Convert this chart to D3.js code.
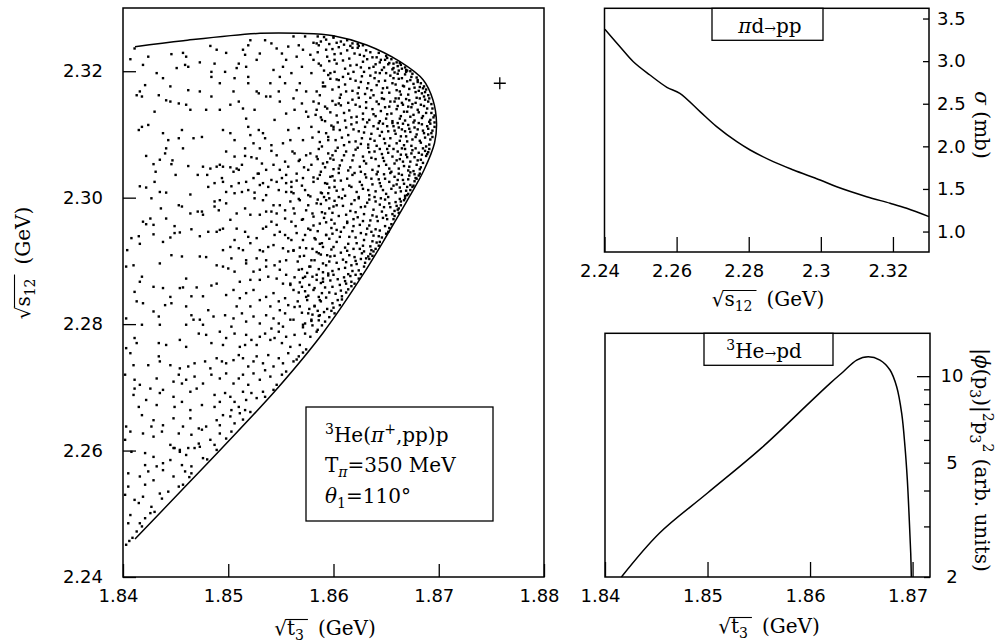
<!DOCTYPE html>
<html>
<head>
<meta charset="utf-8">
<script src="https://cdn.jsdelivr.net/npm/d3@7"></script>
<style>
  body { margin: 0; background: #fff; }
  .tick text { font-family: "DejaVu Sans", sans-serif; font-size: 18px; fill: #000; }
  .tick line { stroke: #000; stroke-width: 1.3; }
  .title { font-family: "DejaVu Serif", serif; font-size: 20px; fill: #000; }
  .note { font-family: "DejaVu Serif", serif; font-size: 20px; fill: #000; }
</style>
</head>
<body>
<svg id="chart" width="1003" height="644"></svg>
<script>
// ---- left panel: sqrt(t3) vs sqrt(s12) scatter ----
const dalitzXTicks = [1.84, 1.85, 1.86, 1.87, 1.88];
const dalitzYTicks = [2.24, 2.26, 2.28, 2.30, 2.32];

// kinematic boundary (GeV)
const boundaryT = [1.84114, 1.84573, 1.85302, 1.85682, 1.85998, 1.86315, 1.86632, 1.86853, 1.86945, 1.86979,
                   1.8696, 1.8686, 1.8672, 1.8652, 1.8629, 1.8590, 1.8547, 1.8495, 1.8456, 1.84114];
const boundaryS = [2.32388, 2.32483, 2.32600, 2.32600, 2.32562, 2.32415, 2.32151, 2.31862, 2.31545, 2.31181,
                   2.30865, 2.30438, 2.30011, 2.29441, 2.28809, 2.27860, 2.26990, 2.26056, 2.25376, 2.24601];

// the lone "+" marker
const markerT = [1.8758];
const markerS = [2.3181];

// events, "t,s" in units of 0.1 MeV above (1.84, 2.24) GeV
// sparse and middle part, read dot by dot off the picture
const sparseDots = `
11,378 13,370 3,362 34,370 41,367 54,375 60,364 72,385 79,383 84,370 92,388 95,367 98,378 106,385 111,364 116,367 117,383 122,375 127,367 130,380 135,385 140,375 144,378 148,388 151,370 155,380 159,364 163,383 168,367 173,385 178,380 184,388 7,354
10,335 24,335 34,349 35,341 45,335 54,330 62,333 68,338 78,341 83,330 89,346 94,341 98,338 105,343 110,351 114,346 119,333 124,341 127,349 133,338 138,351 143,333 148,346 152,338 157,354 162,341 167,349 165,344 171,355 174,360
2,320 11,312 32,314 48,309 53,320 56,306 60,312 68,317 76,306 84,320 92,314 98,322 105,306 110,314 114,320 119,304 124,322 130,312 135,327 140,317 146,304 151,320 155,325 11,298 26,298 38,296 16,304
10,288 22,280 35,291 48,285 56,277 64,293 70,298 75,272 87,288 92,277 97,291 102,285 106,277 110,269 114,293 117,280 122,291 127,283 133,293 135,285 143,296 116,264 103,264 87,269 64,264 49,269 32,272 15,269
3,238 18,256 29,248 38,240 48,251 57,238 64,251 72,235 79,238 89,248 95,256 102,254 106,243 111,259 114,249 121,261 92,240 27,238
7,230 19,227 29,222 37,230 45,209 49,204 53,227 65,225 75,233 83,217 87,209 92,227 98,219 103,230 72,211 62,204 54,201 2,217
8,198 21,196 29,190 38,180 48,204 54,198 60,193 68,204 73,206 76,188 80,186 89,201 21,177 45,185 65,175 56,177
5,164 16,159 24,167 32,175 38,169 48,159 59,167 65,164 63,158 29,153 57,146 53,143 21,146 5,143
2,130 11,122 15,117 35,132 37,124 43,135 27,111 30,103 19,127
7,98 21,93 16,85 18,80 26,101 5,85
13,72 9,62 3,51 6,57
22,666 40,670 29,653 35,660 47,659 46,653 62,650 31,641 50,636 71,636 76,649 83,646 80,636 89,649 16,618 22,616 30,625 35,609 41,608 81,617 87,623 27,599 64,605 87,594 36,583 53,588 56,586 64,575 71,578 75,578 76,573 87,586 91,580 26,567 19,562 22,558 29,557 41,567 49,555 8,536 15,539 16,527 29,542 38,530 45,537 49,544 54,545 65,550 73,539 81,546 89,546 4,517 10,493 3,491 35,496 46,509 56,507 73,507 79,506 89,493 18,475 16,467 29,459 38,457 45,443 54,457 57,458 60,472 65,444 70,458 76,444 84,461 89,464 11,451 13,436 19,433 29,420 34,412 40,430 46,433 60,428 65,414 67,407 73,407 81,422 86,412 3,409 18,399 35,399 60,399 76,399
98,673 106,665 116,666 122,664 127,662 132,654 141,674 146,667 154,657 157,649 92,652 95,649 102,648 108,646 113,652 105,641 110,644 129,638 136,644 143,652 149,644 155,636
94,631 95,625 103,618 110,623 117,625 124,631 128,638 133,623 138,617 141,628 146,625 151,631 155,623 160,617 98,609 106,607 113,609 119,612 125,608 130,620 136,604 148,612 155,609 160,625
92,596 98,591 116,583 125,599 133,596 143,588 149,588 159,594 136,578 141,578 146,575 154,580 130,573 121,573 108,575
102,565 92,549 95,551 108,551 116,546 119,538 127,536 133,551 136,554 141,562 146,557 154,567 160,562 149,546 144,541 154,541 157,536 106,533
95,517 102,522 110,520 114,517 121,528 130,517 133,515 138,522 143,525 152,520 157,515 103,504 117,501 127,504 136,501 149,499 155,501
95,491 100,488 106,483 117,496 124,483 130,486 136,491 144,493 149,486 155,478 111,467 121,470 130,470 138,475 146,472 152,464 159,464
98,446 105,454 111,441 117,449 124,454 130,438 136,443 143,449 148,436 154,441 157,430 108,428 121,428 140,428 149,422
97,414 105,409 113,417 117,404 124,412 130,401 136,414 143,409 148,401 154,417 159,407 103,396 141,393 152,396
163,670 168,660 174,667 179,652 184,665 190,654 195,670 200,660 205,646 165,638 171,631 176,644 181,625 187,636 192,623 197,633 201,617
162,607 168,596 173,612 178,602 184,591 189,607 193,596 200,586 205,601 163,575 170,565 174,580 181,570 187,559 192,575 198,565 203,549
165,544 171,533 178,549 182,536 189,528 193,541 200,522 162,517 168,507 174,520 179,501 186,512 190,496 197,507 167,486 173,475 178,491 184,478 190,467 195,480
162,454 170,459 174,443 181,454 187,438 168,428 176,417 182,428 162,407 171,399 179,407 187,414
7,819 11,836 19,810 24,823 32,797 38,789 46,827 51,805 57,829 60,823 59,810 62,807 73,814 83,840 84,799 84,791 89,834 87,812 92,781 97,799 98,829 106,789 108,805 110,812 114,834 116,826 117,807 119,791 119,781 119,841 121,849 127,818 129,765 130,828 135,849 136,760 140,781 141,844 143,802 146,836 149,791 151,828 152,807 154,781 155,818 157,839 160,797 162,855 165,823 167,841 168,781 170,807 173,855 171,834 174,768 178,826 179,797 184,844 186,812 190,776 193,834 197,797 200,855 201,818 205,786
13,762 16,768 18,760 21,778 30,736 34,762 41,754 45,752 45,776 53,749 60,747 64,739 62,770 73,768 79,739 84,760 92,739 102,747 105,768 110,752 114,741 117,725 119,712 121,699 125,739 127,768 129,707 133,702 135,694 140,760 144,723 148,768 149,752 155,733 157,707 159,691 162,757 163,739 165,770 167,710 170,749 171,691 174,736 176,728 179,712 181,752 184,739 186,704 189,723 192,744 195,691 200,712 205,749 18,712 24,715 15,707 38,702 43,691 53,694 56,707 67,694 75,696 57,678 41,678 95,707 102,702 106,691 116,678 124,686 130,678 141,683 152,686
`;

// dense band along the right edge, estimated (too crowded to read one by one)
const denseDots = `
171,395 180,398 185,391 189,398
163,427 166,436 173,401 180,415 186,406 191,419 196,411 200,426 175,438 182,429 188,436 194,424 199,433 204,438 206,430 201,417 170,418 177,424 185,421 192,404 198,421 186,413 208,439 179,405
159,462 163,474 167,450 168,466 173,452 180,475 186,443 192,458 197,469 202,448 206,462 210,474 214,455 217,467 221,478 177,462 184,470 189,449 195,477 199,459 204,471 208,444 212,464 216,476 217,460 224,472 226,479 171,473 182,457 188,465 193,442 200,478 207,453 211,468 212,450 220,464 214,479 190,472 176,445 196,450
162,516 166,499 170,487 172,508 177,491 184,514 190,482 196,499 201,508 205,487 209,502 213,516 217,493 220,506 224,485 227,512 230,497 233,507 236,517 234,503 175,481 182,501 188,510 193,493 198,518 203,497 207,513 211,489 215,509 219,519 222,495 226,503 229,515 229,491 235,511 221,500 238,515 240,519 180,519 186,487 194,509 199,484 212,498 218,484 225,519 231,504 237,508
160,533 164,555 168,521 173,541 176,551 181,556 187,527 193,541 198,552 203,530 207,546 211,521 215,538 219,555 222,528 226,544 229,533 232,551 235,523 238,540 241,529 244,548 246,537 249,555 252,546 185,547 190,522 196,535 201,559 206,538 210,553 214,527 218,547 221,537 225,557 228,524 231,542 234,556 237,531 240,550 243,539 243,524 250,543 253,552 255,558 183,534 199,543 213,560 236,546 244,530
162,583 167,598 171,566 176,588 180,575 185,597 191,568 196,583 201,595 205,571 209,587 213,562 216,579 220,596 223,569 226,585 229,574 232,592 235,564 238,581 241,570 244,589 246,578 249,597 251,566 254,585 256,574 259,593 261,581 263,598 258,571 264,588 267,596 188,590 193,561 199,576 203,588 208,599 212,573 217,590 221,577 224,599 228,563 230,586 234,597 237,572 240,594 242,563 245,599 248,585 250,572 253,591 257,566 260,587 262,576 264,594 262,583 268,599 189,577 196,599 219,566 247,568 258,579
160,609 165,627 170,619 176,604 181,632 188,608 194,622 199,634 203,611 207,627 211,603 215,619 218,636 222,609 225,625 228,614 231,632 234,604 237,621 240,610 243,629 245,618 248,637 250,606 253,625 255,614 258,633 260,621 262,638 264,610 266,628 268,603 270,617 272,635 271,606 273,612 278,631 276,619 282,638 277,626 185,630 191,601 196,616 201,627 205,639 209,613 213,630 217,617 220,639 224,601 227,620 230,637 233,612 236,630 239,601 241,637 244,623 247,612 249,630 252,601 254,639 257,619 259,608 261,628 263,616 265,636 267,622 269,611 271,629 273,640 270,604 277,637 275,617 279,630 281,635 273,620 195,607
161,673 167,658 172,648 178,670 186,677 192,648 197,662 202,674 206,651 210,667 214,643 218,659 221,676 225,649 228,665 231,654 234,672 237,644 240,661 243,650 246,669 248,658 251,677 253,646 256,665 258,654 261,673 263,661 265,678 267,650 269,668 271,643 273,657 275,675 277,664 279,652 281,671 283,660 285,678 283,648 288,666 290,672 188,641 194,656 199,667 204,679 208,659 212,673 216,648 219,667 223,679 226,641 229,658 233,679 236,663 239,673 242,641 244,677 247,663 250,652 252,671 255,641 257,677 260,659 262,646 264,668 266,657 268,677 270,664 272,649 274,670 276,642 278,678 280,659 282,645 284,668 287,674 285,655 291,677 289,669 200,645 185,661
180,695 187,688 193,702 198,714 202,691 206,707 210,683 214,699 217,716 221,689 224,705 227,694 230,712 233,684 236,701 239,690 242,709 244,698 247,717 249,686 252,705 254,694 257,713 259,701 261,718 263,690 265,708 267,683 269,697 271,715 273,704 275,692 277,711 279,700 281,718 283,687 285,706 287,695 289,713 291,684 293,702 292,692 290,700 296,719 189,681 195,696 200,708 204,719 208,695 212,711 215,688 219,708 222,719 226,685 229,703 232,719 235,693 238,713 241,682 243,718 246,704 248,693 251,713 253,682 256,718 258,706 260,686 262,711 264,697 266,717 268,705 270,689 272,709 274,682 276,719 278,696 280,708 282,690 284,716 286,702 288,681 290,709 292,717 294,696 296,712 294,706
183,731 188,727 194,741 199,753 203,730 207,746 211,722 215,738 218,755 222,728 225,744 228,733 231,751 234,723 237,740 240,729 243,748 245,737 248,756 250,725 253,744 255,733 258,752 260,740 262,757 264,729 266,747 268,722 270,736 272,754 274,743 276,731 278,750 280,739 282,757 284,726 286,745 288,734 290,752 292,723 294,741 296,730 293,748 295,727 186,749 192,721 197,735 202,747 206,758 210,734 214,750 217,727 221,747 224,758 228,724 231,742 235,758 238,732 241,752 244,721 246,757 249,743 251,732 254,752 256,721 259,757 261,745 263,725 265,750 267,736 269,756 271,744 273,728 275,748 277,722 279,758 281,735 283,747 285,729 287,755 289,741 291,720 293,734 291,757
184,768 190,782 195,794 199,771 203,787 207,763 211,779 214,796 218,769 221,785 224,774 227,792 230,764 233,781 236,770 239,789 241,778 244,797 246,766 249,785 251,774 254,793 256,781 258,798 260,770 262,788 264,763 266,777 268,795 270,784 272,772 274,791 276,780 278,767 280,786 282,775 284,765 283,781 288,771 290,762 286,760 187,762 192,776 197,788 201,799 205,775 209,791 212,768 216,788 219,799 223,765 226,783 229,799 232,773 235,793 238,762 240,798 243,784 247,773 250,797 253,766 257,789 259,779 261,796 263,768 265,789 267,776 269,799 271,763 273,786 275,796 277,774 279,790 281,769 280,783 285,773 287,767 286,776
181,818 188,809 194,823 199,835 203,812 207,828 211,804 215,820 218,837 222,810 225,826 228,815 231,833 234,805 237,822 240,811 243,829 245,818 248,806 250,824 253,813 256,803 255,819 261,808 257,812 265,804 263,813 269,802 268,806 185,830 191,801 196,816 201,827 205,838 209,817 213,833 216,809 220,828 223,837 226,806 229,824 232,819 235,830 238,807 241,822 244,814 246,802 249,818 252,811 251,821 257,805 260,814 262,801 264,810 270,801 273,800
185,855 193,850 200,853 207,847 213,849 218,844 223,843 228,841 196,843 188,847 210,842 203,845 191,854 181,845 216,840 224,840 186,841
`;

// ---- top right: pi d -> pp cross section ----
const sigmaXTicks = [2.24, 2.26, 2.28, 2.30, 2.32];
const sigmaXLabels = ["2.24", "2.26", "2.28", "2.3", "2.32"];
const sigmaYTicks = [1.0, 1.5, 2.0, 2.5, 3.0, 3.5];
const sigmaS   = [2.2401, 2.2443, 2.2480, 2.2526, 2.2573, 2.2609, 2.2665, 2.2711, 2.2767, 2.2804,
                  2.2868, 2.2924, 2.2998, 2.3044, 2.3127, 2.3192, 2.3238, 2.3300];
const sigmaVal = [3.374, 3.169, 2.993, 2.837, 2.693, 2.622, 2.407, 2.231, 2.054, 1.957,
                  1.820, 1.722, 1.605, 1.525, 1.409, 1.332, 1.273, 1.175];

// ---- bottom right: 3He -> pd momentum distribution ----
const phiXTicks = [1.84, 1.85, 1.86, 1.87];
const phiYTicks = [2, 3, 4, 5, 6, 7, 8, 9, 10];
const phiYLabels = {2: "2", 5: "5", 10: "10"};
const phiT   = [1.8416, 1.8453, 1.8500, 1.8553, 1.8600, 1.86195, 1.86324, 1.86455, 1.86568, 1.86682,
                1.86780, 1.86845, 1.86894, 1.86926, 1.86949, 1.86968, 1.86982, 1.86988];
const phiVal = [2.0, 2.84, 3.92, 5.64, 8.12, 9.44, 10.36, 11.38, 11.69, 11.38,
                10.51, 9.19, 7.42, 5.68, 4.35, 3.16, 2.42, 2.0];

const svg = d3.select("#chart");

function frame(x, y) {
  svg.append("rect")
    .attr("x", x.range()[0]).attr("y", y.range()[1])
    .attr("width", x.range()[1] - x.range()[0])
    .attr("height", y.range()[0] - y.range()[1])
    .attr("fill", "none").attr("stroke", "#000").attr("stroke-width", 1.5);
}

// text with a square-root sign and its overbar
function radicalTitle(x, y, angle, base, sub, unit) {
  const g = svg.append("g").attr("transform", `translate(${x},${y}) rotate(${angle})`);
  const txt = g.append("text").attr("class", "title").attr("text-anchor", "middle");
  txt.append("tspan").text("√");
  txt.append("tspan").text(base);
  txt.append("tspan").attr("dy", 5).attr("font-size", 14).text(sub);
  txt.append("tspan").attr("dy", -5).attr("dx", 14).text(unit);
  const node = txt.node();
  const n = 1 + base.length + sub.length;
  const x0 = node.getEndPositionOfChar(0).x;
  const x1 = node.getEndPositionOfChar(n - 1).x;
  const yb = node.getStartPositionOfChar(0).y - 15.5;
  g.append("line").attr("x1", x0 - 1).attr("x2", x1 + 4).attr("y1", yb).attr("y2", yb)
    .attr("stroke", "#000").attr("stroke-width", 1.1);
}

// ================= left panel =================
const xL = d3.scaleLinear().domain([1.84, 1.88]).range([123, 544]);
const yL = d3.scaleLinear().domain([2.24, 2.33]).range([577, 8]);

const parseDots = str => str.trim().split(/\s+/).map(p => {
  const [a, b] = p.split(",").map(Number);
  return {t: 1.84 + a / 1e4, s: 2.24 + b / 1e4};
});
const dots = parseDots(sparseDots).concat(parseDots(denseDots));

svg.append("g").selectAll("rect").data(dots).join("rect")
  .attr("x", d => xL(d.t) - 1.2).attr("y", d => yL(d.s) - 1.2)
  .attr("width", 2.4).attr("height", 2.4).attr("fill", "#000");

svg.append("path")
  .datum(d3.range(boundaryT.length))
  .attr("fill", "none").attr("stroke", "#000").attr("stroke-width", 1.5)
  .attr("d", d3.line().x(i => xL(boundaryT[i])).y(i => yL(boundaryS[i])).curve(d3.curveCatmullRom));

svg.append("g").selectAll("path").data(markerT).join("path")
  .attr("d", (d, i) => {
    const cx = xL(d), cy = yL(markerS[i]);
    return `M${cx - 6},${cy}H${cx + 6}M${cx},${cy - 6}V${cy + 6}`;
  })
  .attr("stroke", "#000").attr("stroke-width", 1.3);

frame(xL, yL);

svg.append("g").attr("transform", `translate(0,${yL(2.24)})`)
  .call(d3.axisBottom(xL).tickValues(dalitzXTicks).tickSizeInner(-13).tickSizeOuter(0)
    .tickPadding(12).tickFormat(d3.format(".2f")))
  .call(g => g.select(".domain").remove())
  .call(g => g.selectAll("text").attr("dx", -5));

svg.append("g").attr("transform", `translate(${xL(1.84)},0)`)
  .call(d3.axisLeft(yL).tickValues(dalitzYTicks).tickSizeInner(-13).tickSizeOuter(0)
    .tickPadding(20).tickFormat(d3.format(".2f")))
  .call(g => g.select(".domain").remove());

radicalTitle(325, 635, 0, "t", "3", "(GeV)");
radicalTitle(30, 263, -90, "s", "12", "(GeV)");

// reaction box
svg.append("rect").attr("x", 306).attr("y", 407).attr("width", 187).attr("height", 114)
  .attr("fill", "#fff").attr("stroke", "#000").attr("stroke-width", 1.3);
const note = svg.append("text").attr("class", "note").attr("x", 325).attr("y", 442);
note.append("tspan").attr("dy", -8).attr("font-size", 14).text("3");
note.append("tspan").attr("dy", 8).text("He(");
note.append("tspan").attr("font-style", "italic").text("π");
note.append("tspan").attr("dy", -8).attr("font-size", 14).text("+");
note.append("tspan").attr("dy", 8).text(",pp)p");
const note2 = svg.append("text").attr("class", "note").attr("x", 325).attr("y", 472);
note2.append("tspan").text("T");
note2.append("tspan").attr("dy", 5).attr("font-size", 14).attr("font-style", "italic").text("π");
note2.append("tspan").attr("dy", -5).text("=350 MeV");
const note3 = svg.append("text").attr("class", "note").attr("x", 325).attr("y", 503);
note3.append("tspan").attr("font-style", "italic").text("θ");
note3.append("tspan").attr("dy", 5).attr("font-size", 14).text("1");
note3.append("tspan").attr("dy", -5).text("=110°");

// ================= top right panel =================
const xS = d3.scaleLinear().domain([2.24, 2.33]).range([604.5, 929]);
const yS = d3.scaleLinear().domain([0.76, 3.62]).range([252, 8.3]);

svg.append("path")
  .datum(d3.range(sigmaS.length))
  .attr("fill", "none").attr("stroke", "#000").attr("stroke-width", 1.5)
  .attr("d", d3.line().x(i => xS(sigmaS[i])).y(i => yS(sigmaVal[i])).curve(d3.curveCatmullRom));

frame(xS, yS);

svg.append("g").attr("transform", `translate(0,${yS(0.76)})`)
  .call(d3.axisBottom(xS).tickValues(sigmaXTicks).tickSizeInner(-15).tickSizeOuter(0)
    .tickPadding(12).tickFormat((d, i) => sigmaXLabels[i]))
  .call(g => g.select(".domain").remove())
  .call(g => g.selectAll("text").attr("dx", -5));

svg.append("g").attr("transform", `translate(${xS(2.33)},0)`)
  .call(d3.axisRight(yS).tickValues(sigmaYTicks).tickSizeInner(-6).tickSizeOuter(0)
    .tickPadding(8).tickFormat(d3.format(".1f")))
  .call(g => g.select(".domain").remove());

svg.append("rect").attr("x", 712).attr("y", yS(3.62)).attr("width", 111).attr("height", 32)
  .attr("fill", "#fff").attr("stroke", "#000").attr("stroke-width", 1.3);
const lab1 = svg.append("text").attr("class", "note").attr("x", 770).attr("y", 33).attr("text-anchor", "middle");
lab1.append("tspan").attr("font-style", "italic").text("π");
lab1.append("tspan").text("d");
lab1.append("tspan").attr("font-size", 14).text("→");
lab1.append("tspan").text("pp");

radicalTitle(768, 306, 0, "s", "12", "(GeV)");

const sigT = svg.append("g").attr("transform", "translate(975,125) rotate(90)")
  .append("text").attr("class", "title").attr("text-anchor", "middle");
sigT.append("tspan").attr("font-style", "italic").text("σ");
sigT.append("tspan").text(" (mb)");

// ================= bottom right panel =================
const xP = d3.scaleLinear().domain([1.84, 1.8717]).range([605, 930]);
const yP = d3.scaleLog().domain([2, 14.1]).range([577, 333.3]);

svg.append("path")
  .datum(d3.range(phiT.length))
  .attr("fill", "none").attr("stroke", "#000").attr("stroke-width", 1.5)
  .attr("d", d3.line().x(i => xP(phiT[i])).y(i => yP(phiVal[i])).curve(d3.curveCatmullRom));

frame(xP, yP);

svg.append("g").attr("transform", `translate(0,${yP(2)})`)
  .call(d3.axisBottom(xP).tickValues(phiXTicks).tickSizeInner(-15).tickSizeOuter(0)
    .tickPadding(12).tickFormat(d3.format(".2f")))
  .call(g => g.select(".domain").remove())
  .call(g => g.selectAll("text").attr("dx", -5));

svg.append("g").attr("transform", `translate(${xP(1.8717)},0)`)
  .call(d3.axisRight(yP).tickValues(phiYTicks).tickSizeInner(-6).tickSizeOuter(0)
    .tickPadding(22).tickFormat(d => phiYLabels[d] || ""))
  .call(g => g.select(".domain").remove())
  .call(g => g.selectAll("text").attr("text-anchor", "middle"))
  .call(g => g.selectAll(".tick").filter(d => d === 10).select("line").attr("x2", -13));

svg.append("rect").attr("x", 704).attr("y", yP(14.1)).attr("width", 129).attr("height", 32)
  .attr("fill", "#fff").attr("stroke", "#000").attr("stroke-width", 1.3);
const lab2 = svg.append("text").attr("class", "note").attr("x", 764).attr("y", 358).attr("text-anchor", "middle");
lab2.append("tspan").attr("dy", -8).attr("font-size", 14).text("3");
lab2.append("tspan").attr("dy", 8).text("He");
lab2.append("tspan").attr("font-size", 14).text("→");
lab2.append("tspan").text("pd");

radicalTitle(769, 633, 0, "t", "3", "(GeV)");

const phiTitle = svg.append("g").attr("transform", "translate(975,460) rotate(90)")
  .append("text").attr("class", "title").attr("text-anchor", "middle");
phiTitle.append("tspan").text("|");
phiTitle.append("tspan").attr("font-style", "italic").text("ϕ");
phiTitle.append("tspan").text("(p");
phiTitle.append("tspan").attr("dy", 5).attr("font-size", 14).text("3");
phiTitle.append("tspan").attr("dy", -5).text(")|");
phiTitle.append("tspan").attr("dy", -8).attr("font-size", 14).text("2");
phiTitle.append("tspan").attr("dy", 8).text("p");
phiTitle.append("tspan").attr("dy", 5).attr("font-size", 14).text("3");
phiTitle.append("tspan").attr("dy", -13).attr("font-size", 14).text("2");
phiTitle.append("tspan").attr("dy", 8).text(" (arb. units)");
</script>
</body>
</html>
